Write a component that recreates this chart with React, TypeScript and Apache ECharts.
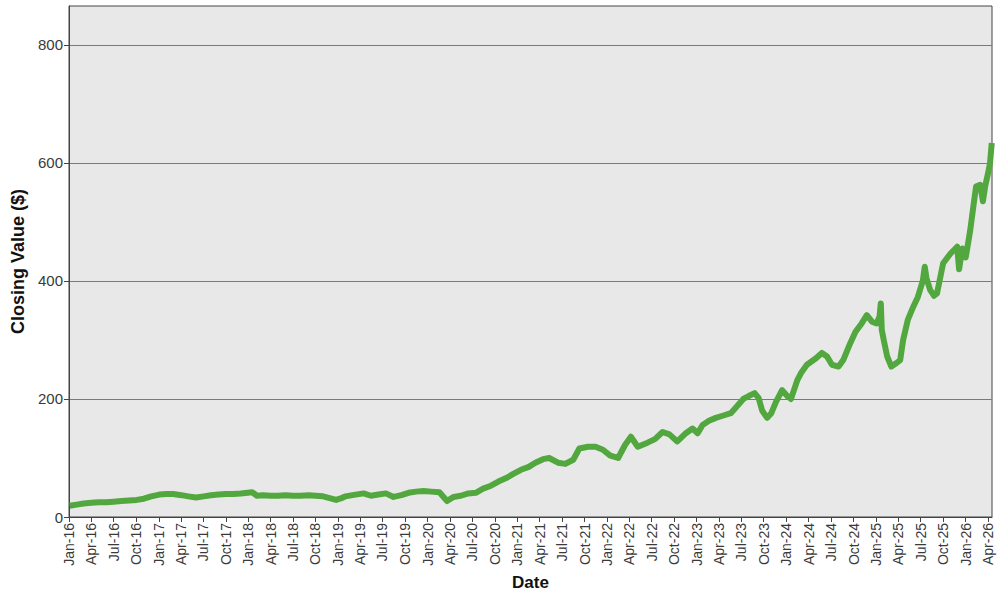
import React, { useEffect, useRef } from "react";
import * as echarts from "echarts";

// Closing values
const dates: string[] = [
  "2016-01-04", "2016-02-01", "2016-03-01", "2016-04-01", "2016-05-02", "2016-06-01",
  "2016-07-01", "2016-08-01", "2016-09-01", "2016-10-03", "2016-11-01", "2016-12-01",
  "2017-01-03", "2017-02-01", "2017-03-01", "2017-04-03", "2017-05-01", "2017-06-01",
  "2017-07-03", "2017-08-01", "2017-09-01", "2017-10-02", "2017-11-01", "2017-12-01",
  "2018-01-16", "2018-02-05", "2018-03-01", "2018-04-02", "2018-05-01", "2018-06-01",
  "2018-07-02", "2018-08-01", "2018-09-04", "2018-10-01", "2018-11-01", "2018-12-24",
  "2019-01-15", "2019-02-01", "2019-03-01", "2019-04-15", "2019-05-15", "2019-06-14",
  "2019-07-15", "2019-08-15", "2019-09-16", "2019-10-15", "2019-11-15", "2019-12-16",
  "2020-01-15", "2020-02-18", "2020-03-20", "2020-04-15", "2020-05-15", "2020-06-15",
  "2020-07-15", "2020-08-14", "2020-09-15", "2020-10-15", "2020-11-16", "2020-12-15",
  "2021-01-15", "2021-02-16", "2021-03-15", "2021-04-15", "2021-05-10", "2021-06-15",
  "2021-07-15", "2021-08-16", "2021-09-10", "2021-10-15", "2021-11-15", "2021-12-15",
  "2022-01-14", "2022-02-15", "2022-03-15", "2022-04-08", "2022-05-06", "2022-06-15",
  "2022-07-15", "2022-08-15", "2022-09-12", "2022-10-14", "2022-11-15", "2022-12-15",
  "2023-01-05", "2023-01-25", "2023-02-20", "2023-03-20", "2023-04-20", "2023-05-20",
  "2023-06-15", "2023-07-10", "2023-08-01", "2023-08-25", "2023-09-10", "2023-09-25",
  "2023-10-15", "2023-11-01", "2023-11-20", "2023-12-15",
  "2024-01-05", "2024-01-20", "2024-02-15", "2024-03-01", "2024-03-25", "2024-05-01",
  "2024-05-25", "2024-06-15", "2024-07-05", "2024-08-01", "2024-08-20", "2024-09-18",
  "2024-10-09", "2024-11-03", "2024-11-24", "2024-12-15",
  "2025-01-03", "2025-01-15", "2025-01-20", "2025-01-24", "2025-02-01", "2025-02-15",
  "2025-03-04", "2025-03-25", "2025-04-09", "2025-04-21", "2025-05-10", "2025-06-01",
  "2025-06-20", "2025-07-10", "2025-07-18", "2025-07-25", "2025-08-09", "2025-08-25",
  "2025-09-06", "2025-10-01", "2025-11-01", "2025-11-27", "2025-12-05", "2025-12-18",
  "2026-01-01", "2026-01-19", "2026-02-01", "2026-02-12", "2026-03-01", "2026-03-12",
  "2026-03-21", "2026-04-03", "2026-04-10", "2026-04-17",
];

const closingValues: number[] = [
  19, 21, 23, 24, 25, 25, 26, 27, 28, 29, 31, 35,
  38, 39, 39, 37, 35, 33, 35, 37, 38, 39, 39, 40,
  42, 36, 37, 36, 36, 37, 36, 36, 37, 36, 35, 29,
  32, 35, 37, 40, 36, 38, 40, 34, 37, 41, 43, 44,
  43, 42, 27, 34, 36, 40, 41, 48, 53, 60, 66, 73,
  80, 85, 92, 98, 100, 92, 90, 97, 116, 119, 119, 114,
  104, 100, 122, 136, 119, 126, 132, 144, 140, 128, 141, 150,
  142, 156, 163, 168, 172, 176, 188, 200, 205, 210, 202, 180,
  168, 176, 195, 215,
  205, 200, 232, 244, 258, 269, 278, 272, 258, 255, 266, 295,
  314, 328, 342, 331,
  328, 340, 362, 317, 300, 272, 255, 261, 266, 300, 334, 356,
  373, 400, 424, 405, 385, 375, 379, 430, 447, 458, 420, 455,
  440, 485, 526, 560, 563, 535, 560, 585, 600, 634,
];

const yTickValues: number[] = [0, 200, 400, 600, 800];
const monthAbbr: string[] = ["Jan", "Feb", "Mar", "Apr", "May", "Jun", "Jul", "Aug", "Sep", "Oct", "Nov", "Dec"];
const axisStart = "2016-01-01";
const axisEnd = "2026-04-18";

const parseDate = (s: string) => {
  const [y, m, d] = s.split("-").map(Number);
  return new Date(y, m - 1, d).getTime();
};

// quarterly tick dates Jan-16 ... Apr-26
const quarterTicks: number[] = [];
for (let y = 2016; y <= 2026; y++) {
  for (const m of [0, 3, 6, 9]) {
    if (y === 2026 && m > 3) break;
    quarterTicks.push(new Date(y, m, 1).getTime());
  }
}

export default function App() {
  const ref = useRef<HTMLDivElement>(null);
  useEffect(() => {
    if (!ref.current) return;
    const chart = echarts.init(ref.current, undefined, { renderer: "svg" });
    const font = "'Liberation Sans', Arial, sans-serif";
    chart.setOption({
      animation: false,
      backgroundColor: "#ffffff",
      grid: {
        left: 69,
        right: 8,
        top: 6,
        bottom: 83,
        show: true,
        backgroundColor: "#e8e8e8",
        borderColor: "#444444",
        borderWidth: 1,
      },
      xAxis: {
        type: "value",
        min: parseDate(axisStart),
        max: parseDate(axisEnd),
        name: "Date",
        nameLocation: "middle",
        nameGap: 57,
        nameTextStyle: { fontFamily: font, fontSize: 17, fontWeight: "bold", color: "#111" },
        axisLine: { show: true, onZero: false, lineStyle: { color: "#444444", width: 1 } },
        axisTick: { show: true, length: 5, customValues: quarterTicks, lineStyle: { color: "#444444" } },
        axisLabel: {
          customValues: quarterTicks,
          rotate: 90,
          margin: 6,
          hideOverlap: false,
          fontFamily: font,
          fontSize: 14,
          color: "#3a3a3a",
          formatter: (v: number) => {
            const d = new Date(v);
            return monthAbbr[d.getMonth()] + "-" + String(d.getFullYear()).slice(2);
          },
        },
        splitLine: { show: false },
      },
      yAxis: {
        type: "value",
        min: 0,
        max: 866,
        interval: 200,
        name: "Closing Value ($)",
        nameLocation: "middle",
        nameGap: 38,
        nameTextStyle: { fontFamily: font, fontSize: 18, fontWeight: "bold", color: "#111" },
        axisLine: { show: true, lineStyle: { color: "#444444", width: 1 } },
        axisTick: { show: true, length: 5, customValues: yTickValues, lineStyle: { color: "#444444" } },
        axisLabel: {
          customValues: yTickValues,
          margin: 6,
          fontFamily: font,
          fontSize: 15,
          color: "#3a3a3a",
        },
        splitLine: { show: true, lineStyle: { color: "#7a7a7a", width: 1 } },
      },
      series: [
        {
          type: "line",
          data: dates.map((d, i) => [parseDate(d), closingValues[i]]),
          showSymbol: false,
          lineStyle: { color: "#52a83e", width: 6, join: "round" },
          itemStyle: { color: "#52a83e" },
        },
      ],
    });
    return () => chart.dispose();
  }, []);
  return <div ref={ref} style={{ width: 1000, height: 600, position: "absolute", left: 0, top: 0 }} />;
}
